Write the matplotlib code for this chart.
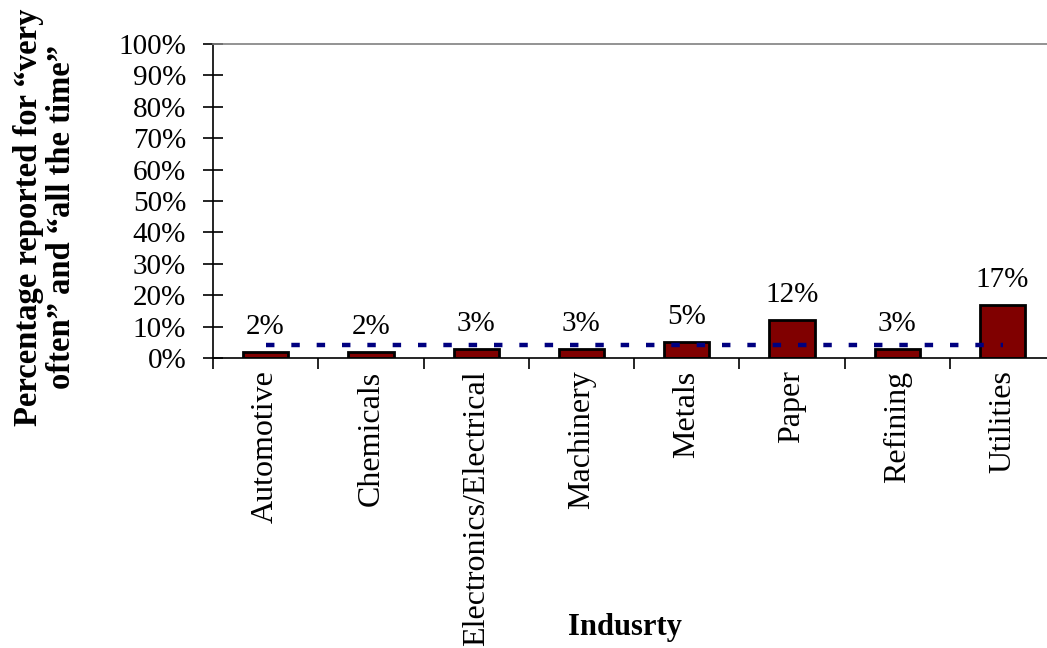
import numpy as np
import matplotlib
matplotlib.use("Agg")
import matplotlib.pyplot as plt
from matplotlib.ticker import FixedLocator, FuncFormatter

plt.rcParams["font.family"] = ["Liberation Serif", "DejaVu Serif"]

industries = ["Automotive", "Chemicals", "Electronics/Electrical", "Machinery",
              "Metals", "Paper", "Refining", "Utilities"]
pct = [2, 2, 3, 3, 5, 12, 3, 17]
average = 4
yticks = list(range(0, 101, 10))

BAR = "#800000"
NAVY = "#000080"
FS = 21

fig = plt.figure(figsize=(10.47, 6.48), dpi=100)
ax = fig.add_axes([0.2034, 0.4475, 0.8044, 0.4846])

x = np.arange(len(industries))
ax.bar(x, pct, width=0.43, color=BAR, edgecolor="black", linewidth=2, zorder=2)
ax.plot([x[0], x[-1]], [average, average], color=NAVY, lw=3.2,
        dashes=(1.9, 3.8), zorder=3)

for xi, v in zip(x, pct):
    ax.annotate(f"{v}%", (xi, v), xytext=(0, 13), textcoords="offset points",
                ha="center", va="baseline", fontsize=FS)

ax.set_xlim(-0.5, len(industries) - 0.5)
ax.set_ylim(0, 100)

# y axis: ticks crossing the spine
ax.set_yticks(yticks)
ax.yaxis.set_major_formatter(FuncFormatter(lambda v, _: f"{v:.0f}%"))
ax.tick_params(axis="y", direction="inout", length=14.5, width=1.2,
               labelsize=FS, pad=12)

# x axis: labels at bar centres, tick marks between categories
ax.set_xticks(x)
ax.set_xticklabels(industries, rotation=90, fontsize=23)
ax.tick_params(axis="x", which="major", length=0, pad=9)
ax.xaxis.set_minor_locator(FixedLocator(np.arange(-0.5, len(industries), 1.0)))
ax.tick_params(axis="x", which="minor", direction="out", length=8, width=1.2)

ax.spines["right"].set_visible(False)
ax.spines["top"].set_color("#808080")
for s in ("top", "left", "bottom"):
    ax.spines[s].set_linewidth(1.2)

fig.text(0.043, 0.665, "Percentage reported for \u201cvery\noften\u201d and \u201call the time\u201d",
         rotation=90, ha="center", va="center", fontsize=23.5, fontweight="bold",
         linespacing=1.12, multialignment="center")
fig.text(0.597, 0.02, "Indusrty", ha="center", va="baseline",
         fontsize=22, fontweight="bold")

fig.savefig("out.png", dpi=100)
